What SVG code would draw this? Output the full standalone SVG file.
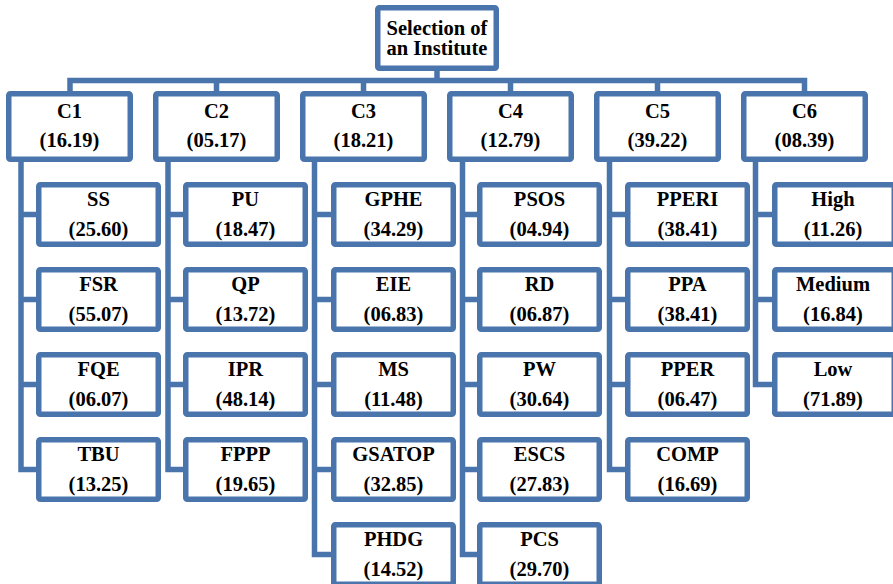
<svg xmlns="http://www.w3.org/2000/svg" width="893" height="584" viewBox="0 0 893 584">
<style>
.b{fill:#fff;stroke:#4A75AC;stroke-width:5.5}
.c{fill:none;stroke:#4A75AC;stroke-width:5.5;stroke-linejoin:miter}
.t{font-family:'Liberation Serif','DejaVu Serif',serif;font-weight:700;font-size:20.5px;fill:#000;text-anchor:middle}
</style>
<rect width="893" height="584" fill="#fff"/>
<g id="connectors">
<path class="c" d="M437 71V80.5M70 91V80.5H804.5V91M216.5 80.5V91M363.5 80.5V91M510.5 80.5V91M657.5 80.5V91"/>
<path class="c" d="M21 162V469.5H36M21 214.5H36M21 299.5H36M21 384.5H36"/>
<path class="c" d="M168 162V469.5H183M168 214.5H183M168 299.5H183M168 384.5H183"/>
<path class="c" d="M314.5 162V554.5H331M314.5 214.5H331M314.5 299.5H331M314.5 384.5H331M314.5 469.5H331"/>
<path class="c" d="M462.5 162V554.5H477M462.5 214.5H477M462.5 299.5H477M462.5 384.5H477M462.5 469.5H477"/>
<path class="c" d="M609.5 162V469.5H625M609.5 214.5H625M609.5 299.5H625M609.5 384.5H625"/>
<path class="c" d="M755.5 162V384.5H772M755.5 214.5H772M755.5 299.5H772"/>
</g>
<g class="t" font-family="Liberation Serif, DejaVu Serif, serif" font-weight="bold">
<g id="root"><rect class="b" x="377.75" y="7.75" width="118.5" height="60.5" rx="1.5"/><text x="437" y="34.5">Selection of</text><text x="437" y="55">an Institute</text></g>
<g id="C1"><rect class="b" x="8.75" y="93.75" width="121.5" height="65.5" rx="1.5"/><text x="69.5" y="118">C1</text><text x="69.5" y="147">(16.19)</text></g>
<g id="C2"><rect class="b" x="155.75" y="93.75" width="121.5" height="65.5" rx="1.5"/><text x="216.5" y="118">C2</text><text x="216.5" y="147">(05.17)</text></g>
<g id="C3"><rect class="b" x="302.75" y="93.75" width="121.5" height="65.5" rx="1.5"/><text x="363.5" y="118">C3</text><text x="363.5" y="147">(18.21)</text></g>
<g id="C4"><rect class="b" x="449.75" y="93.75" width="121.5" height="65.5" rx="1.5"/><text x="510.5" y="118">C4</text><text x="510.5" y="147">(12.79)</text></g>
<g id="C5"><rect class="b" x="596.75" y="93.75" width="121.5" height="65.5" rx="1.5"/><text x="657.5" y="118">C5</text><text x="657.5" y="147">(39.22)</text></g>
<g id="C6"><rect class="b" x="743.75" y="93.75" width="121.5" height="65.5" rx="1.5"/><text x="804.5" y="118">C6</text><text x="804.5" y="147">(08.39)</text></g>

<g id="SS"><rect class="b" x="38.75" y="184.75" width="119.5" height="59.5" rx="1.5"/><text x="98.5" y="206">SS</text><text x="98.5" y="236">(25.60)</text></g>
<g id="FSR"><rect class="b" x="38.75" y="269.75" width="119.5" height="59.5" rx="1.5"/><text x="98.5" y="291">FSR</text><text x="98.5" y="321">(55.07)</text></g>
<g id="FQE"><rect class="b" x="38.75" y="354.75" width="119.5" height="59.5" rx="1.5"/><text x="98.5" y="376">FQE</text><text x="98.5" y="406">(06.07)</text></g>
<g id="TBU"><rect class="b" x="38.75" y="439.75" width="119.5" height="59.5" rx="1.5"/><text x="98.5" y="461">TBU</text><text x="98.5" y="491">(13.25)</text></g>

<g id="PU"><rect class="b" x="185.75" y="184.75" width="119.5" height="59.5" rx="1.5"/><text x="245.5" y="206">PU</text><text x="245.5" y="236">(18.47)</text></g>
<g id="QP"><rect class="b" x="185.75" y="269.75" width="119.5" height="59.5" rx="1.5"/><text x="245.5" y="291">QP</text><text x="245.5" y="321">(13.72)</text></g>
<g id="IPR"><rect class="b" x="185.75" y="354.75" width="119.5" height="59.5" rx="1.5"/><text x="245.5" y="376">IPR</text><text x="245.5" y="406">(48.14)</text></g>
<g id="FPPP"><rect class="b" x="185.75" y="439.75" width="119.5" height="59.5" rx="1.5"/><text x="245.5" y="461">FPPP</text><text x="245.5" y="491">(19.65)</text></g>

<g id="GPHE"><rect class="b" x="333.75" y="184.75" width="119.5" height="59.5" rx="1.5"/><text x="393.5" y="206">GPHE</text><text x="393.5" y="236">(34.29)</text></g>
<g id="EIE"><rect class="b" x="333.75" y="269.75" width="119.5" height="59.5" rx="1.5"/><text x="393.5" y="291">EIE</text><text x="393.5" y="321">(06.83)</text></g>
<g id="MS"><rect class="b" x="333.75" y="354.75" width="119.5" height="59.5" rx="1.5"/><text x="393.5" y="376">MS</text><text x="393.5" y="406">(11.48)</text></g>
<g id="GSATOP"><rect class="b" x="333.75" y="439.75" width="119.5" height="59.5" rx="1.5"/><text x="393.5" y="461">GSATOP</text><text x="393.5" y="491">(32.85)</text></g>
<g id="PHDG"><rect class="b" x="333.75" y="524.75" width="119.5" height="59.5" rx="1.5"/><text x="393.5" y="546">PHDG</text><text x="393.5" y="576">(14.52)</text></g>

<g id="PSOS"><rect class="b" x="479.75" y="184.75" width="119.5" height="59.5" rx="1.5"/><text x="539.5" y="206">PSOS</text><text x="539.5" y="236">(04.94)</text></g>
<g id="RD"><rect class="b" x="479.75" y="269.75" width="119.5" height="59.5" rx="1.5"/><text x="539.5" y="291">RD</text><text x="539.5" y="321">(06.87)</text></g>
<g id="PW"><rect class="b" x="479.75" y="354.75" width="119.5" height="59.5" rx="1.5"/><text x="539.5" y="376">PW</text><text x="539.5" y="406">(30.64)</text></g>
<g id="ESCS"><rect class="b" x="479.75" y="439.75" width="119.5" height="59.5" rx="1.5"/><text x="539.5" y="461">ESCS</text><text x="539.5" y="491">(27.83)</text></g>
<g id="PCS"><rect class="b" x="479.75" y="524.75" width="119.5" height="59.5" rx="1.5"/><text x="539.5" y="546">PCS</text><text x="539.5" y="576">(29.70)</text></g>

<g id="PPERI"><rect class="b" x="627.75" y="184.75" width="119.5" height="59.5" rx="1.5"/><text x="687.5" y="206">PPERI</text><text x="687.5" y="236">(38.41)</text></g>
<g id="PPA"><rect class="b" x="627.75" y="269.75" width="119.5" height="59.5" rx="1.5"/><text x="687.5" y="291">PPA</text><text x="687.5" y="321">(38.41)</text></g>
<g id="PPER"><rect class="b" x="627.75" y="354.75" width="119.5" height="59.5" rx="1.5"/><text x="687.5" y="376">PPER</text><text x="687.5" y="406">(06.47)</text></g>
<g id="COMP"><rect class="b" x="627.75" y="439.75" width="119.5" height="59.5" rx="1.5"/><text x="687.5" y="461">COMP</text><text x="687.5" y="491">(16.69)</text></g>

<g id="High"><rect class="b" x="774.75" y="184.75" width="119.5" height="59.5" rx="1.5"/><text x="833" y="206">High</text><text x="833" y="236">(11.26)</text></g>
<g id="Medium"><rect class="b" x="774.75" y="269.75" width="119.5" height="59.5" rx="1.5"/><text x="833" y="291">Medium</text><text x="833" y="321">(16.84)</text></g>
<g id="Low"><rect class="b" x="774.75" y="354.75" width="119.5" height="59.5" rx="1.5"/><text x="833" y="376">Low</text><text x="833" y="406">(71.89)</text></g>
</g>
</svg>
